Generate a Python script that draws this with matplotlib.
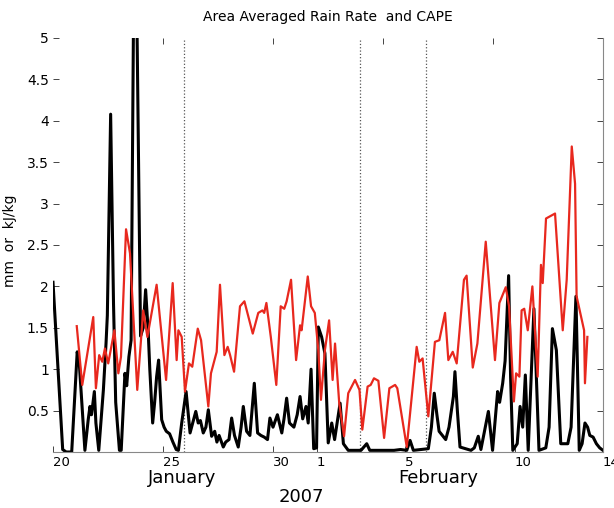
import matplotlib
matplotlib.use('Agg')
import matplotlib.pyplot as plt

# ─────────────────────────────────────────────
# Data (day of 2007 counted from Jan 1 = 1; Feb 1 = 32)
# ─────────────────────────────────────────────

rain_day = [20.00, 20.44, 20.60, 20.85, 21.10, 21.20, 21.45, 21.60, 21.68, 21.75,
            21.88, 21.95, 22.08, 22.29, 22.41, 22.47, 22.62, 22.75, 22.85, 23.02,
            23.10, 23.27, 23.35, 23.45, 23.55, 23.72, 23.98, 24.10, 24.21, 24.33,
            24.40, 24.53, 24.62, 24.71, 24.80, 24.94, 25.05, 25.15, 25.30, 25.45,
            25.60, 25.70, 25.85, 26.05, 26.15, 26.23, 26.35, 26.49, 26.60, 26.70,
            26.83, 26.95, 27.06, 27.21, 27.35, 27.45, 27.55, 27.74, 27.85, 28.00,
            28.12, 28.25, 28.42, 28.55, 28.65, 28.80, 28.95, 29.15, 29.30, 29.45,
            29.60, 29.75, 29.86, 30.00, 30.20, 30.40, 30.50, 30.62, 30.75, 30.95,
            31.10, 31.23, 31.35, 31.50, 31.60, 31.73, 31.85, 31.98, 32.06, 32.21,
            32.36, 32.51, 32.67, 32.80, 33.05, 33.20, 33.42, 34.00, 34.26, 34.40,
            35.00, 35.50, 35.80, 36.08, 36.23, 36.38, 37.06, 37.20, 37.33, 37.45,
            37.55, 37.70, 37.85, 38.00, 38.20, 38.27, 38.38, 38.50, 39.00, 39.15,
            39.33, 39.45, 39.79, 39.98, 40.21, 40.30, 40.44, 40.55, 40.71, 40.80,
            40.90, 41.10, 41.23, 41.35, 41.47, 41.60, 41.86, 42.09, 42.40, 42.55,
            42.70, 42.88, 43.08, 43.40, 43.55, 43.77, 43.92, 44.05, 44.18, 44.30,
            44.40, 44.55, 44.70, 44.85, 45.00]
rain_val = [2.05, 0.03, 0.00, 0.00, 1.21, 1.05, 0.02, 0.39, 0.55, 0.45,
            0.73, 0.35, 0.02, 0.75, 1.31, 1.65, 4.08, 1.80, 0.60, 0.02,
            0.02, 0.95, 0.80, 1.15, 1.35, 7.40, 1.40, 1.50, 1.96, 1.44,
            1.00, 0.35, 0.60, 0.91, 1.11, 0.39, 0.30, 0.25, 0.22, 0.12,
            0.03, 0.02, 0.35, 0.73, 0.45, 0.23, 0.35, 0.49, 0.35, 0.38,
            0.23, 0.30, 0.51, 0.19, 0.25, 0.12, 0.20, 0.06, 0.12, 0.15,
            0.41, 0.20, 0.06, 0.30, 0.55, 0.25, 0.20, 0.83, 0.23, 0.20,
            0.18, 0.15, 0.41, 0.30, 0.45, 0.23, 0.40, 0.65, 0.35, 0.30,
            0.45, 0.67, 0.40, 0.55, 0.35, 1.00, 0.04, 0.05, 1.51, 1.39,
            1.19, 0.11, 0.35, 0.15, 0.59, 0.10, 0.02, 0.02, 0.10, 0.02,
            0.02, 0.02, 0.03, 0.02, 0.14, 0.02, 0.04, 0.30, 0.71, 0.45,
            0.25, 0.20, 0.15, 0.30, 0.67, 0.97, 0.50, 0.06, 0.02, 0.05,
            0.19, 0.03, 0.49, 0.02, 0.73, 0.60, 0.83, 1.10, 2.13, 0.90,
            0.02, 0.10, 0.55, 0.30, 0.93, 0.02, 1.73, 0.02, 0.05, 0.30,
            1.49, 1.23, 0.10, 0.10, 0.30, 1.88, 0.02, 0.10, 0.35, 0.30,
            0.20, 0.18, 0.10, 0.05, 0.02]

cape_day = [21.08, 21.33, 21.83, 21.95, 22.10, 22.24, 22.36, 22.51, 22.79, 22.97,
            23.09, 23.32, 23.50, 23.83, 24.10, 24.29, 24.71, 25.14, 25.44, 25.62,
            25.70, 25.85, 26.00, 26.18, 26.33, 26.58, 26.73, 27.06, 27.18, 27.44,
            27.59, 27.79, 27.94, 28.05, 28.23, 28.50, 28.70, 29.08, 29.33, 29.52,
            29.60, 29.70, 29.90, 30.15, 30.35, 30.51, 30.62, 30.82, 31.05, 31.23,
            31.30, 31.58, 31.73, 31.90, 32.06, 32.18, 32.36, 32.55, 32.71, 32.82,
            33.01, 33.23, 33.42, 33.73, 33.93, 34.06, 34.30, 34.44, 34.59, 34.79,
            35.05, 35.29, 35.55, 35.65, 36.08, 36.53, 36.65, 36.80, 37.06, 37.36,
            37.56, 37.82, 37.97, 38.17, 38.35, 38.68, 38.80, 39.08, 39.29, 39.67,
            40.09, 40.29, 40.58, 40.73, 40.95, 41.05, 41.20, 41.30, 41.42, 41.58,
            41.79, 42.03, 42.18, 42.26, 42.41, 42.82, 43.17, 43.35, 43.58, 43.73,
            43.80, 44.14, 44.18, 44.29]
cape_val = [1.52, 0.81, 1.63, 0.77, 1.17, 1.09, 1.25, 1.07, 1.47, 0.95,
            1.15, 2.69, 2.40, 0.75, 1.71, 1.39, 2.02, 0.87, 2.04, 1.11,
            1.47, 1.39, 0.73, 1.07, 1.03, 1.49, 1.35, 0.55, 0.95, 1.21,
            2.02, 1.17, 1.27, 1.17, 0.97, 1.76, 1.82, 1.43, 1.68, 1.71,
            1.68, 1.80, 1.39, 0.81, 1.76, 1.73, 1.82, 2.08, 1.11, 1.53,
            1.47, 2.12, 1.76, 1.68, 1.23, 0.63, 1.23, 1.59, 0.87, 1.31,
            0.59, 0.19, 0.71, 0.87, 0.75, 0.27, 0.79, 0.81, 0.89, 0.86,
            0.17, 0.77, 0.81, 0.77, 0.06, 1.27, 1.09, 1.13, 0.43, 1.33,
            1.35, 1.68, 1.11, 1.21, 1.07, 2.08, 2.13, 1.02, 1.31, 2.54,
            1.11, 1.80, 1.99, 1.76, 0.61, 0.95, 0.91, 1.71, 1.73, 1.47,
            2.00, 0.91, 2.26, 2.04, 2.82, 2.88, 1.47, 2.08, 3.69, 3.24,
            1.88, 1.47, 0.83, 1.39]

event_days = [25.96, 33.96, 36.96]

xtick_pos = [20, 25, 30, 32, 36, 41, 45]
xtick_lab = ['20', '25', '30', '1', '5', '10', '14']
top_ticks = [25, 30, 35, 40]
ytick_pos = [0.5, 1, 1.5, 2, 2.5, 3, 3.5, 4, 4.5, 5]
ytick_lab = ['0.5', '1', '1.5', '2', '2.5', '3', '3.5', '4', '4.5', '5']

# ─────────────────────────────────────────────
# Plot
# ─────────────────────────────────────────────

plt.rcParams['font.family'] = ['DejaVu Sans']

fig = plt.figure(figsize=(6.14, 5.08), dpi=100)
ax = fig.add_axes([53 / 614, 56 / 508, 550 / 614, 414 / 508])

for d in event_days:
    ax.axvline(d, color='#555555', linestyle=':', linewidth=0.9, zorder=1)

ax.plot(rain_day, rain_val, color='black', linewidth=2.2, zorder=2)
ax.plot(cape_day, cape_val, color='#e8281e', linewidth=1.6, zorder=3)

ax.set_xlim(20, 45)
ax.set_ylim(0, 5)

ax.set_xticks(xtick_pos)
ax.set_xticklabels(xtick_lab, fontsize=9.5)
for lab in ax.get_xticklabels():
    lab.set_ha('left')
ax.set_yticks(ytick_pos)
ax.set_yticklabels(ytick_lab, fontsize=10)
ax.tick_params(axis='both', direction='in', length=4, width=0.7, color='#444444')
ax.tick_params(axis='x', pad=3)
ax.tick_params(axis='y', pad=3, right=True)

top = ax.secondary_xaxis('top')
top.set_xticks(top_ticks)
top.set_xticklabels([])
top.tick_params(direction='in', length=4, width=0.7, color='#444444')
top.spines['top'].set_visible(False)

ax.spines['top'].set_visible(False)
ax.spines['left'].set_visible(False)
ax.spines['right'].set_color('#888888')
ax.spines['bottom'].set_color('#888888')

ax.set_ylabel('mm  or  kJ/kg', fontsize=10)
ax.yaxis.set_label_coords(-0.065, 0.51)
ax.set_title('Area Averaged Rain Rate  and CAPE', fontsize=10, pad=12)

trans = ax.get_xaxis_transform()
ax.text(25.86, -0.063, 'January', transform=trans, ha='center', va='center', fontsize=13)
ax.text(37.5, -0.063, 'February', transform=trans, ha='center', va='center', fontsize=13)
ax.text(31.3, -0.109, '2007', transform=trans, ha='center', va='center', fontsize=13)

fig.savefig('out.png', dpi=100)
